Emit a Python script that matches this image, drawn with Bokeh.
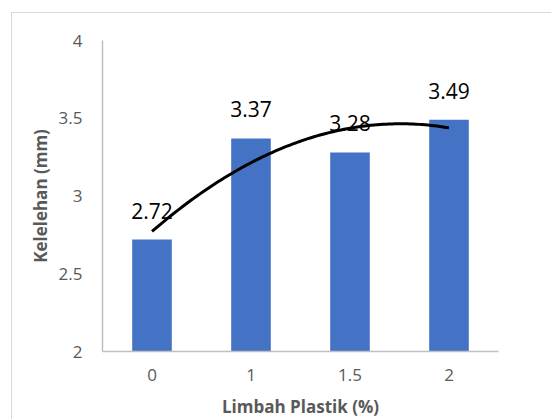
import numpy as np
from bokeh.plotting import figure
from bokeh.models import Range1d, FixedTicker, ColumnDataSource
from bokeh.core.properties import value
from bokeh.embed import file_html
from bokeh.resources import INLINE

categories = ["0", "1", "1.5", "2"]
values = [2.72, 3.37, 3.28, 3.49]
value_labels = ["2.72", "3.37", "3.28", "3.49"]
y_ticks = [2, 2.5, 3, 3.5, 4]
y_tick_labels = ["2", "2.5", "3", "3.5", "4"]
x_title = "Limbah Plastik (%)"
y_title = "Kelelehan (mm)"

BAR = "#4472C4"
GRAY_TXT = "#595959"
FONT = "Open Sans"

pos = np.arange(len(categories)) + 0.5

p = figure(width=540, height=407, output_backend="svg", toolbar_location=None,
           x_range=Range1d(0, len(categories)), y_range=Range1d(y_ticks[0], y_ticks[-1]),
           min_border_left=90, min_border_right=54, min_border_top=27, min_border_bottom=69)
p.margin = (12, 0, 0, 11)
p.styles = {"border-left": "1px solid #d9d9d9", "border-top": "1px solid #d9d9d9"}
p.outline_line_color = None
p.grid.visible = False
p.background_fill_color = "white"
p.border_fill_color = "white"

src = ColumnDataSource(dict(x=pos, top=values, label=value_labels))
p.vbar(x="x", top="top", bottom=y_ticks[0], width=0.4, source=src,
       fill_color=BAR, line_color=None)

# polynomial (order 2) trendline as in the original chart
xs_idx = np.arange(1, len(values) + 1)
coef = np.polyfit(xs_idx, values, 2)
xt = np.linspace(1, len(values), 100)
p.line(xt - 0.5, np.polyval(coef, xt), line_color="black", line_width=3)

p.text(x="x", y="top", text="label", source=src, text_align="center",
       text_baseline="bottom", y_offset=-21, text_font=value(FONT),
       text_font_size="21px", text_color="black")

xa = p.xaxis[0]
xa.ticker = FixedTicker(ticks=list(pos))
xa.major_label_overrides = {float(a): b for a, b in zip(pos, categories)}
ya = p.yaxis[0]
ya.ticker = FixedTicker(ticks=y_ticks)
ya.major_label_overrides = {float(a): b for a, b in zip(y_ticks, y_tick_labels)}

for ax in (xa, ya):
    ax.axis_line_color = "#bfbfbf"
    ax.axis_line_width = 1.5
    ax.major_tick_line_color = None
    ax.minor_tick_line_color = None
    ax.major_tick_out = 0
    ax.major_tick_in = 0
    ax.major_label_text_font = FONT
    ax.major_label_text_font_size = "17px"
    ax.major_label_text_color = GRAY_TXT
    ax.axis_label_text_font = FONT
    ax.axis_label_text_font_size = "17px"
    ax.axis_label_text_font_style = "bold"
    ax.axis_label_text_color = GRAY_TXT

xa.axis_label = x_title
ya.axis_label = y_title
xa.major_label_standoff = 17
xa.axis_label_standoff = 11
ya.major_label_standoff = 20
ya.axis_label_standoff = 4

open("out.html", "w").write(file_html(p, INLINE))
